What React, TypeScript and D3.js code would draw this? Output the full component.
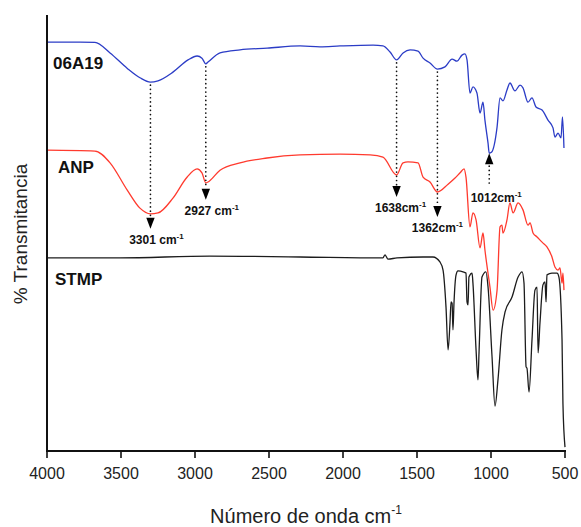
import React from 'react';
import * as d3 from 'd3';

// FTIR spectra: [wavenumber (cm-1), transmittance (offset, a.u.)]
const spectrum06A19: [number, number][] = [
  [4000, 93.8], [3777, 93.8], [3676, 93.7], [3574, 91.3], [3459, 87.8], [3372, 85.6],
  [3301, 84.6], [3250, 84.9], [3149, 86.9], [3047, 89.7], [2986, 90.6], [2953, 90.1],
  [2927, 88.8], [2912, 89.2], [2831, 91.3], [2696, 92.0], [2513, 92.4], [2290, 92.9],
  [2155, 92.7], [2020, 92.9], [1797, 93.1], [1730, 92.9], [1682, 91.5], [1638, 89.7],
  [1594, 91.3], [1547, 92.0], [1493, 91.7], [1459, 90.1], [1412, 89.0], [1362, 87.6],
  [1311, 88.1], [1263, 89.9], [1230, 89.4], [1196, 90.8], [1176, 91.1], [1162, 89.7],
  [1142, 82.1], [1122, 83.5], [1095, 82.1], [1074, 77.5], [1054, 80.0], [1041, 75.9],
  [1020, 70.6], [1012, 68.3], [997, 68.5], [959, 74.3], [939, 81.0], [919, 80.3],
  [892, 82.8], [872, 84.4], [838, 82.6], [804, 83.9], [784, 83.3], [750, 80.0],
  [723, 81.0], [696, 78.9], [655, 78.2], [615, 75.9], [581, 74.1], [568, 72.0],
  [547, 72.9], [527, 71.8], [517, 76.6], [507, 69.5],
];

const spectrumANP: [number, number][] = [
  [4000, 69.0], [3676, 68.8], [3574, 66.1], [3459, 59.9], [3372, 55.7], [3301, 54.4],
  [3250, 54.6], [3149, 58.0], [3054, 62.8], [2986, 64.7], [2953, 63.8], [2927, 61.5],
  [2912, 61.7], [2831, 64.4], [2696, 66.1], [2513, 67.2], [2290, 67.9], [2020, 68.1],
  [1817, 67.9], [1730, 67.4], [1638, 63.3], [1594, 66.1], [1561, 66.3], [1493, 66.1],
  [1459, 62.8], [1412, 61.7], [1362, 59.4], [1290, 61.2], [1243, 62.6], [1209, 63.8],
  [1182, 64.7], [1169, 62.8], [1142, 51.4], [1122, 54.6], [1101, 53.0], [1074, 46.6],
  [1054, 50.0], [1041, 46.1], [1007, 37.6], [986, 32.3], [959, 36.9], [939, 51.4],
  [926, 51.8], [919, 50.0], [892, 53.0], [872, 56.9], [851, 54.6], [817, 56.9],
  [784, 55.3], [750, 51.8], [736, 52.3], [716, 50.0], [689, 49.1], [655, 47.9],
  [622, 46.8], [588, 44.5], [568, 42.2], [547, 41.5], [534, 42.0], [520, 38.5],
  [514, 40.8], [507, 36.9],
];

const spectrumSTMP: [number, number][] = [
  [4000, 44.3], [3507, 44.3], [2899, 44.7], [2290, 44.5], [1730, 44.3], [1716, 45.0],
  [1696, 44.0], [1635, 44.3], [1459, 44.5], [1392, 44.5], [1344, 43.3], [1324, 41.5],
  [1304, 33.0], [1290, 23.2], [1277, 29.5], [1270, 34.2], [1263, 33.9], [1257, 27.8],
  [1250, 34.0], [1236, 40.4], [1223, 41.3], [1189, 41.1], [1169, 40.8], [1162, 34.2],
  [1155, 33.5], [1149, 39.9], [1128, 40.8], [1122, 38.5], [1101, 23.2], [1088, 16.3],
  [1081, 22.5], [1061, 39.9], [1034, 41.1], [1020, 37.6], [993, 21.6], [973, 10.3],
  [953, 16.3], [926, 27.8], [905, 31.9], [858, 35.3], [817, 39.9], [790, 41.1],
  [777, 38.5], [763, 19.3], [757, 19.0], [743, 13.5], [723, 25.5], [703, 36.9],
  [689, 37.6], [682, 22.5], [669, 29.4], [649, 38.1], [635, 38.8], [628, 34.2],
  [622, 40.4], [588, 40.8], [554, 40.8], [541, 39.9], [520, 25.5], [514, 11.0],
  [500, 0.9],
];

const seriesNames = ['06A19', 'ANP', 'STMP'];
const seriesColors = ['#2b3cc6', '#ff3a2e', '#1c1c1c'];

const xTicks = [4000, 3500, 3000, 2500, 2000, 1500, 1000, 500];

// Marked absorption bands
const peakWavenumbers = [3301, 2927, 1638, 1362, 1012];
const peakLabels = ['3301 cm', '2927 cm', '1638cm', '1362cm', '1012cm'];

const FONT = "'Liberation Sans', Arial, Helvetica, sans-serif";

function valueAt(data: [number, number][], wn: number): number {
  const p = data.find((d) => d[0] === wn);
  if (p) return p[1];
  const sorted = [...data].sort((a, b) => a[0] - b[0]);
  const i = d3.bisector((d: [number, number]) => d[0]).left(sorted, wn);
  const a = sorted[Math.max(0, i - 1)];
  const b = sorted[Math.min(sorted.length - 1, i)];
  if (a[0] === b[0]) return a[1];
  return a[1] + ((wn - a[0]) / (b[0] - a[0])) * (b[1] - a[1]);
}

export default function App() {
  const width = 581;
  const height = 527;
  const left = 47;
  const right = 565;
  const top = 15;
  const bottom = 451;

  const x = d3.scaleLinear().domain([4000, 500]).range([left, right]);
  const y = d3.scaleLinear().domain([0, 100]).range([bottom, top]);

  const line = d3
    .line<[number, number]>()
    .x((d) => x(d[0]))
    .y((d) => y(d[1]))
    .curve(d3.curveMonotoneX);

  const spectra = [spectrum06A19, spectrumANP, spectrumSTMP];

  // label placement for each series name
  const nameLayout = [
    { x: left + 6, y: 69 },
    { x: left + 11, y: 173 },
    { x: left + 8, y: 285 },
  ];

  // gaps (px) between the ANP trace and the tip of each downward arrow
  const tipGap = [15, 17, 22, 25];
  const labelDx = [6, 6, 4, 0, 7];
  const arrowH = 11;
  const arrowW = 4.2;

  return (
    <svg
      width={width}
      height={height}
      style={{ position: 'absolute', left: 0, top: 0, background: '#fff' }}
      fontFamily={FONT}
    >
      {/* spectra */}
      {spectra.map((s, i) => (
        <path
          key={seriesNames[i]}
          d={line(s) || ''}
          fill="none"
          stroke={seriesColors[i]}
          strokeWidth={1.3}
          strokeLinejoin="round"
        />
      ))}

      {/* band markers */}
      {peakWavenumbers.map((wn, i) => {
        const px = x(wn);
        const yBlue = y(valueAt(spectrum06A19, wn));
        const yRed = y(valueAt(spectrumANP, wn));
        const sup = (
          <tspan dy={-5} fontSize={8}>
            -1
          </tspan>
        );
        if (i < 4) {
          const tip = yRed + tipGap[i];
          const base = tip - arrowH;
          return (
            <g key={wn}>
              <line
                x1={px}
                x2={px}
                y1={yBlue + 3}
                y2={base - 1}
                stroke="#111"
                strokeWidth={1.7}
                strokeDasharray="0 4.2"
                strokeLinecap="round"
              />
              <path
                d={`M${px - arrowW},${base}L${px + arrowW},${base}L${px},${tip}Z`}
                fill="#000"
              />
              <text
                x={px + labelDx[i]}
                y={tip + 15}
                textAnchor="middle"
                fontSize={12}
                fontWeight="bold"
                fill="#111"
              >
                {peakLabels[i]}
                {sup}
              </text>
            </g>
          );
        }
        const tip = yBlue;
        const base = tip + arrowH;
        const end = base + 22;
        return (
          <g key={wn}>
            <path
              d={`M${px - arrowW},${base}L${px + arrowW},${base}L${px},${tip}Z`}
              fill="#000"
            />
            <line
              x1={px}
              x2={px}
              y1={base + 2}
              y2={end}
              stroke="#111"
              strokeWidth={1.7}
              strokeDasharray="0 4.2"
              strokeLinecap="round"
            />
            <text
              x={px + labelDx[i]}
              y={end + 16}
              textAnchor="middle"
              fontSize={12}
              fontWeight="bold"
              fill="#111"
            >
              {peakLabels[i]}
              {sup}
            </text>
          </g>
        );
      })}

      {/* series names */}
      {seriesNames.map((n, i) => (
        <text
          key={n}
          x={nameLayout[i].x}
          y={nameLayout[i].y}
          fontSize={17}
          fontWeight="bold"
          fill="#111"
        >
          {n}
        </text>
      ))}

      {/* axes */}
      <line x1={left} x2={left} y1={top} y2={bottom + 1} stroke="#111" strokeWidth={2} />
      <line x1={left - 1} x2={right + 1} y1={bottom} y2={bottom} stroke="#111" strokeWidth={2} />
      {xTicks.map((t) => (
        <g key={t}>
          <line x1={x(t)} x2={x(t)} y1={bottom} y2={bottom + 7} stroke="#111" strokeWidth={1.6} />
          <text x={x(t)} y={479} textAnchor="middle" fontSize={16} fill="#222">
            {t}
          </text>
        </g>
      ))}

      {/* axis titles */}
      <text x={306} y={523} textAnchor="middle" fontSize={20} fill="#222">
        Número de onda cm
        <tspan dy={-9} fontSize={12}>
          -1
        </tspan>
      </text>
      <text
        transform={`translate(27, 234) rotate(-90)`}
        textAnchor="middle"
        fontSize={19}
        fill="#222"
      >
        % Transmitancia
      </text>
    </svg>
  );
}
